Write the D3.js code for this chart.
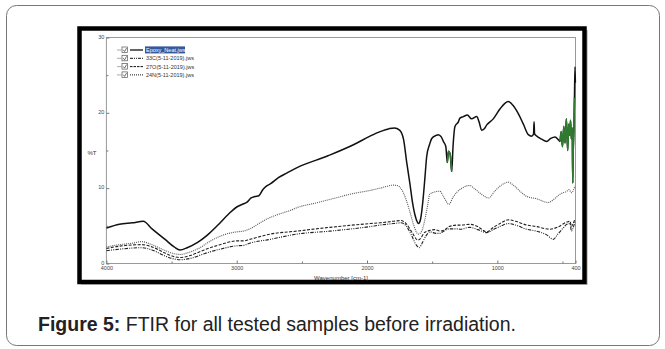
<!DOCTYPE html>
<html>
<head>
<meta charset="utf-8">
<script src="https://cdn.jsdelivr.net/npm/d3@7/dist/d3.min.js"></script>
<style>
  body { margin: 0; background: #fff; }
  svg { display: block; }
</style>
</head>
<body>
<div id="chart"></div>
<script>
// FTIR spectra, [wavenumber cm-1, %T]
var epoxyNeat = [
  [4000,4.7],[3900,5.2],[3800,5.4],[3717,5.6],[3650,4.6],[3550,3.2],[3480,2.2],[3435,1.8],[3380,2.1],
  [3300,2.8],[3230,3.7],[3150,5.0],[3060,6.6],[3000,7.5],[2950,7.9],[2923,8.1],[2890,8.7],[2860,8.9],
  [2830,9.0],[2800,9.8],[2770,10.3],[2740,10.6],[2680,11.4],[2616,12.0],[2540,12.7],[2300,14.3],
  [2100,15.8],[1977,16.9],[1900,17.5],[1830,17.9],[1790,18.0],[1750,17.7],[1720,16.5],[1695,13.4],
  [1670,10.5],[1650,8.0],[1625,6.0],[1605,5.3],[1590,5.8],[1570,8.5],[1555,11.5],[1542,14.2],
  [1520,15.8],[1503,16.6],[1470,17.0],[1453,17.1],[1430,16.8],[1414,16.2],[1395,15.5],[1384,13.4],
  [1375,14.9],[1362,14.5],[1350,12.2],[1340,15.5],[1325,18.2],[1299,18.8],[1287,19.3],[1260,19.5],
  [1230,19.7],[1197,19.2],[1158,19.5],[1140,18.8],[1120,17.7],[1100,17.9],[1081,18.4],[1031,19.2],
  [980,20.5],[940,21.3],[916,21.5],[880,21.0],[839,19.9],[800,18.5],[762,17.1],[736,16.9],[722,17.2],
  [718,18.8],[714,17.2],[703,17.0],[660,16.5],[621,16.2],[590,16.6],[557,16.8],[530,16.4],[519,16.2],
  [510,17.5],[500,15.5],[490,18.2],[480,16.0],[470,19.2],[460,15.0],[452,18.5],[445,17.0],[438,19.0],
  [432,16.5],[425,18.0],[421,10.7],[418,14.5],[412,18.0],[408,22.0],[404,26.1],[401,24.0]
];
var s33C = [
  [4000,1.7],[3900,1.9],[3729,2.1],[3650,1.8],[3550,1.0],[3480,0.6],[3435,0.5],[3350,0.7],[3250,1.3],
  [3128,1.9],[3000,2.35],[2950,2.4],[2900,2.7],[2744,3.2],[2540,3.9],[2284,4.3],[1977,4.9],[1900,5.1],
  [1800,5.3],[1740,5.4],[1700,5.0],[1660,3.8],[1620,2.4],[1598,2.1],[1580,2.6],[1550,3.6],[1517,4.2],
  [1470,4.0],[1440,4.0],[1410,4.3],[1370,4.6],[1300,4.6],[1286,4.55],[1210,4.8],[1150,4.5],[1081,4.1],
  [1030,4.5],[970,5.0],[916,5.3],[860,5.1],[774,4.55],[700,4.3],[621,3.8],[570,3.2],[540,3.8],
  [490,4.8],[467,5.2],[442,5.3],[431,4.3],[421,4.6],[404,5.6]
];
var s27O = [
  [4000,2.0],[3900,2.3],[3729,2.5],[3650,2.2],[3550,1.4],[3480,0.9],[3435,0.8],[3350,1.1],[3250,1.8],
  [3128,2.5],[3000,3.0],[2950,3.0],[2900,3.2],[2744,3.9],[2540,4.3],[2284,4.8],[1977,5.3],[1900,5.4],
  [1800,5.6],[1740,5.7],[1700,5.3],[1650,4.0],[1610,3.1],[1590,3.3],[1560,4.1],[1517,4.4],[1480,4.5],
  [1440,4.3],[1410,4.4],[1370,4.9],[1300,5.1],[1286,5.1],[1210,5.2],[1150,4.9],[1081,4.2],[1030,4.8],
  [970,5.4],[916,5.8],[860,5.6],[774,5.1],[700,4.9],[596,4.55],[540,4.8],[467,5.5],[442,5.6],
  [431,4.9],[421,5.2],[404,5.9]
];
var s24N = [
  [4000,2.2],[3900,2.5],[3800,2.7],[3729,2.9],[3650,2.5],[3560,1.8],[3480,1.3],[3435,1.2],[3380,1.4],
  [3282,2.1],[3200,3.0],[3100,3.8],[3000,4.2],[2950,4.3],[2900,4.6],[2830,5.3],[2770,5.9],[2700,6.4],
  [2566,7.2],[2540,7.4],[2400,8.0],[2284,8.5],[2130,9.2],[1977,9.7],[1900,10.0],[1798,10.4],[1760,10.3],
  [1734,9.8],[1700,8.5],[1670,6.8],[1640,5.0],[1607,3.9],[1580,4.3],[1555,5.9],[1530,8.2],[1519,9.2],
  [1480,9.5],[1442,9.6],[1410,8.8],[1371,7.85],[1340,8.8],[1314,9.4],[1270,10.0],[1237,10.3],
  [1210,10.35],[1180,10.0],[1130,9.3],[1066,8.7],[1020,9.6],[960,10.5],[916,10.8],[870,10.3],[820,9.5],
  [774,8.9],[700,8.6],[609,8.1],[560,8.6],[519,9.2],[467,9.6],[450,9.8],[431,9.4],[415,9.8],[404,10.3]
];
// noisy parts of the neat spectrum that the software paints green
var greenRanges = [[1392, 1345], [528, 406]];

var legendLabels = ["Epoxy_Neat.jws", "33C(5-11-2019).jws", "27O(5-11-2019).jws", "24N(5-11-2019).jws"];
var xMajorTicks = [4000, 3000, 2000, 1000, 400];
var xMinorTicks = [3500, 2500, 1500, 500];
var yMajorTicks = [0, 10, 20, 30];
var yMinorTicks = [5, 15, 25];

var width = 665, height = 349;
var plot = { left: 106.4, right: 575.5, top: 37.5, bottom: 263.5 };

var svg = d3.select("#chart")
  .append("svg")
  .attr("width", width)
  .attr("height", height);

svg.append("rect").attr("width", width).attr("height", height).attr("fill", "#fff");

// outer card
svg.append("rect")
  .attr("x", 6.5).attr("y", 5.5)
  .attr("width", 653).attr("height", 340)
  .attr("rx", 10)
  .attr("fill", "none")
  .attr("stroke", "#777")
  .attr("stroke-width", 1);

// screenshot frame with a soft shadow
svg.append("rect")
  .attr("x", 81).attr("y", 30).attr("width", 507).attr("height", 255)
  .attr("fill", "#ccc");
svg.append("rect")
  .attr("x", 79.5).attr("y", 28.5).attr("width", 505).attr("height", 253.5)
  .attr("fill", "#fff")
  .attr("stroke", "#000")
  .attr("stroke-width", 4.5);

var x = d3.scaleLinear().domain([4000, 400]).range([plot.left, plot.right]);
var y = d3.scaleLinear().domain([0, 30]).range([plot.bottom, plot.top]);

var g = svg.append("g");

g.append("rect")
  .attr("x", plot.left).attr("y", plot.top)
  .attr("width", plot.right - plot.left).attr("height", plot.bottom - plot.top)
  .attr("fill", "none")
  .attr("stroke", "#999")
  .attr("stroke-width", 1);

// axes, ticks drawn inward like the instrument software
var xAxis = g.append("g")
  .attr("transform", "translate(0," + plot.bottom + ")")
  .call(d3.axisBottom(x).tickValues(xMajorTicks).tickSize(-3).tickPadding(3).tickFormat(d3.format("d")));
g.append("g")
  .attr("transform", "translate(0," + plot.bottom + ")")
  .call(d3.axisBottom(x).tickValues(xMinorTicks).tickSize(-2).tickFormat(""));
var yAxis = g.append("g")
  .attr("transform", "translate(" + plot.left + ",0)")
  .call(d3.axisLeft(y).tickValues(yMajorTicks).tickSize(-3).tickPadding(2));
g.append("g")
  .attr("transform", "translate(" + plot.left + ",0)")
  .call(d3.axisLeft(y).tickValues(yMinorTicks).tickSize(-2).tickFormat(""));

g.selectAll(".domain").remove();
g.selectAll(".tick line").attr("stroke", "#777");
g.selectAll(".tick text")
  .attr("fill", "#444")
  .style("font-family", "'Liberation Sans', Arial, sans-serif")
  .style("font-size", "5.5px");
yAxis.selectAll(".tick text").attr("dy", "0.1em");

g.append("text")
  .attr("x", 92).attr("y", 155)
  .attr("text-anchor", "middle")
  .attr("fill", "#333")
  .style("font-family", "'Liberation Sans', Arial, sans-serif")
  .style("font-size", "6px")
  .text("%T");

g.append("text")
  .attr("x", 341).attr("y", 279.5)
  .attr("text-anchor", "middle")
  .attr("fill", "#333")
  .style("font-family", "'Liberation Sans', Arial, sans-serif")
  .style("font-size", "6px")
  .text("Wavenumber [cm-1]");

var line = d3.line()
  .x(function (d) { return x(d[0]); })
  .y(function (d) { return y(d[1]); })
  .curve(d3.curveMonotoneX);

var series = [
  { data: s33C, dash: "3.5,1.2,1,1.2,1,1.2", color: "#222", w: 1.1 },
  { data: s27O, dash: "3,1.5", color: "#222", w: 1.1 },
  { data: s24N, dash: "1,1", color: "#555", w: 1.1 },
  { data: epoxyNeat, dash: null, color: "#111", w: 1.5 }
];

g.selectAll("path.spectrum")
  .data(series)
  .enter()
  .append("path")
  .attr("class", "spectrum")
  .attr("d", function (d) { return line(d.data); })
  .attr("fill", "none")
  .attr("stroke", function (d) { return d.color; })
  .attr("stroke-width", function (d) { return d.w; })
  .attr("stroke-dasharray", function (d) { return d.dash; });

// green overlay on the noisy bits
greenRanges.forEach(function (r) {
  var part = epoxyNeat.filter(function (d) { return d[0] <= r[0] && d[0] >= r[1]; });
  g.append("path")
    .attr("d", line(part))
    .attr("fill", "none")
    .attr("stroke", "#2f7a2f")
    .attr("stroke-width", 1.6);
});

// legend
var legendStyles = [
  { dash: null, w: 1.3 },
  { dash: "3,1,1,1,1,1", w: 1 },
  { dash: "2.5,1", w: 1 },
  { dash: "1,1", w: 1 }
];
var legend = g.append("g").attr("transform", "translate(0,0)");
legendLabels.forEach(function (lab, i) {
  var ly = 50 + i * 8.3;
  legend.append("line")
    .attr("x1", 117).attr("x2", 121.5).attr("y1", ly).attr("y2", ly)
    .attr("stroke", "#888").attr("stroke-width", 0.7);
  legend.append("rect")
    .attr("x", 122).attr("y", ly - 3).attr("width", 5.5).attr("height", 5.5)
    .attr("fill", "#fff").attr("stroke", "#555").attr("stroke-width", 0.7);
  legend.append("path")
    .attr("d", "M123.2," + (ly - 0.2) + " L124.6," + (ly + 1.5) + " L126.6," + (ly - 2))
    .attr("fill", "none").attr("stroke", "#333").attr("stroke-width", 0.7);
  legend.append("line")
    .attr("x1", 130).attr("x2", 143).attr("y1", ly).attr("y2", ly)
    .attr("stroke", "#111")
    .attr("stroke-width", legendStyles[i].w)
    .attr("stroke-dasharray", legendStyles[i].dash);
  if (i === 0) {
    legend.append("rect")
      .attr("x", 145).attr("y", ly - 3.6).attr("width", 40).attr("height", 7)
      .attr("fill", "#34589a");
  }
  legend.append("text")
    .attr("x", 146).attr("y", ly + 2)
    .attr("fill", i === 0 ? "#fff" : "#333")
    .style("font-family", "'Liberation Sans', Arial, sans-serif")
    .style("font-size", "5.5px")
    .text(lab);
});

// caption
var cap = svg.append("text")
  .attr("x", 38).attr("y", 331)
  .attr("fill", "#222")
  .style("font-family", "'Liberation Sans', Arial, sans-serif")
  .style("font-size", "19.5px");
cap.append("tspan").style("font-weight", "bold").text("Figure 5:");
cap.append("tspan").text(" FTIR for all tested samples before irradiation.");
</script>
</body>
</html>
